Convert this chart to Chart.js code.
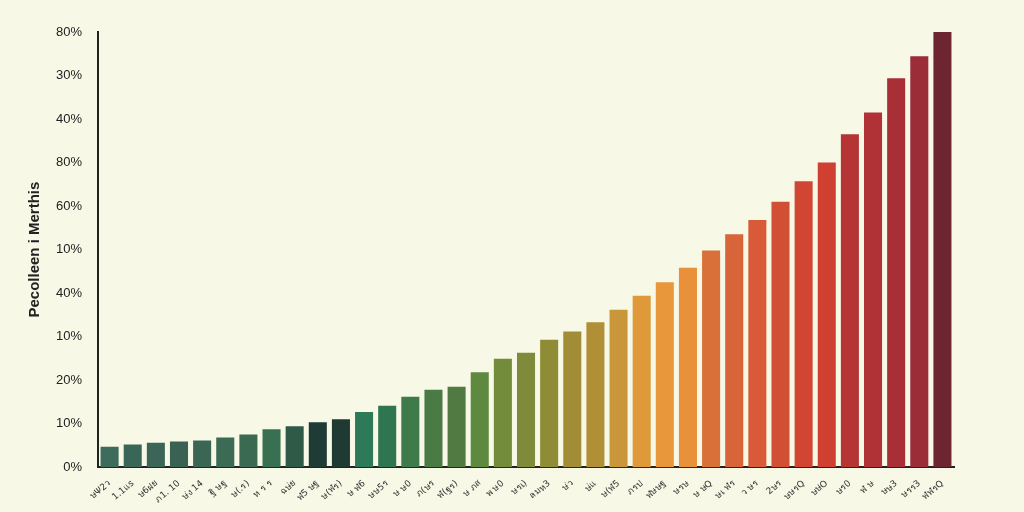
<!DOCTYPE html>
<html><head><meta charset="utf-8">
<script src="https://cdn.jsdelivr.net/npm/chart.js@4"></script>
<style>html,body{margin:0;background:#f7f8e6}#wrap{width:1024px;height:512px}</style>
</head><body><div id="wrap"><canvas id="c" width="1024" height="512"></canvas></div>
<script>
const categories = ['ษΨ2ว','1.1แs','ษ6ฝย','ภ1. 10','ษ่ง 14','ฐิ ษฐ','ษ(.ร)','ห ร ร','ฉษ่ย','ฬ5 ษฐ','ษ(ฬร)','ษ ฬ6','ษษ5ร','ษ ษ0','ภ(ษร','ฬ(ฐร)','ษ ภส','พ ษ0','ษรเ)','ลมห3','ษ่ว','ษ่แ','ษ(ฬ5','ภรป','ฬษษฐ','ษรษ','ษ ษQ','ษเ ฬร','ว ษร','2ษร','ษษรQ','ษษ่O','ษร0','ฬ ษ','ษษ3','ษรร3','ฬฬรQ'];
const values = [4.7,5.2,5.6,5.9,6.1,6.8,7.5,8.7,9.4,10.3,11.0,12.7,14.1,16.2,17.8,18.5,21.8,24.9,26.3,29.3,31.2,33.3,36.2,39.4,42.5,45.8,49.8,53.5,56.8,61.0,65.7,70.0,76.5,81.5,89.4,94.4,100];
const tickLabels = ['0%','10%','20%','10%','40%','10%','60%','80%','40%','30%','80%'];
const barColors = ['#3d6b5c','#3a6658','#3b6556','#3a6252','#3c6654','#3b6a55','#3a6a52','#3a7052','#2f5a48','#1f3b35','#1e3a32','#2e7a58','#2f7550','#3f7a4a','#4a7b45','#517a42','#5e8a40','#728c3b','#7f8b3a','#908c36','#a08d35','#b08f36','#c9963a','#df993a','#e8973a','#e8903a','#d9703a','#d8643a','#d85a38','#d04f35','#d04632','#d04030','#b53535','#b03236','#a82f36','#9a2d38','#6e2532'];

new Chart(document.getElementById('c'), {
  type: 'bar',
  data: { labels: categories, datasets: [{ data: values, backgroundColor: barColors, categoryPercentage: 1, barPercentage: 0.78 }] },
  options: {
    responsive: false, animation: false,
    layout: { padding: { top: 32, right: 70, left: 22, bottom: 4 } },
    plugins: { legend: { display: false }, tooltip: { enabled: false } },
    scales: {
      x: {
        grid: { display: false, drawTicks: true },
        border: { color: '#222', width: 2 },
        ticks: { color: '#333', font: { family: 'DejaVu Sans', size: 9 }, maxRotation: 40, minRotation: 40, autoSkip: false }
      },
      y: {
        min: 0, max: 100,
        grid: { display: false },
        border: { color: '#222', width: 2 },
        ticks: { stepSize: 10, color: '#222', padding: 8, font: { family: 'Liberation Sans', size: 13 }, callback: (v, i) => tickLabels[i] },
        title: { display: true, text: 'Pecolleen i Merthis', color: '#222', font: { family: 'Liberation Sans', size: 15, weight: 'bold' } }
      }
    }
  }
});
</script></body></html>
